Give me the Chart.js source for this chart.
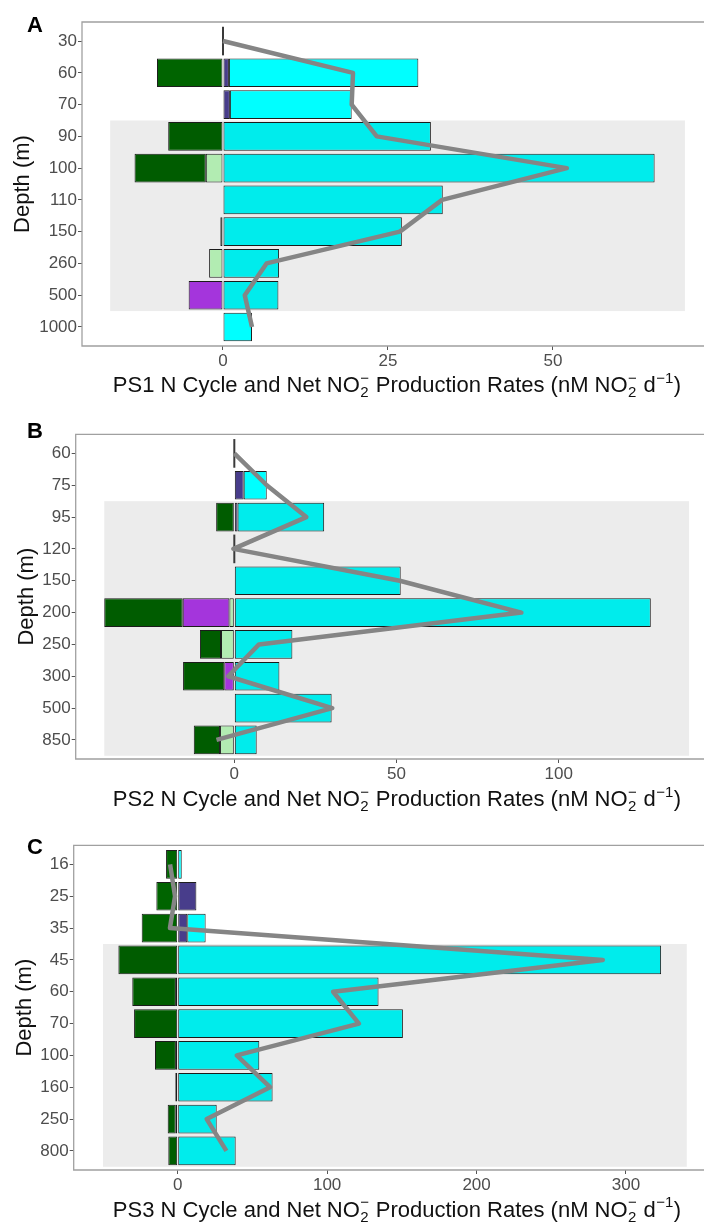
<!DOCTYPE html>
<html>
<head>
<meta charset="utf-8">
<script src="https://cdn.jsdelivr.net/npm/chart.js@4.4.1/dist/chart.umd.min.js"></script>
<style>
  html, body { margin: 0; padding: 0; background: #fff; }
  #page { position: relative; width: 704px; height: 1224px; overflow: hidden; }
  canvas { position: absolute; left: 0; }
</style>
</head>
<body>
<div id="page">
  <canvas id="ps1" width="704" height="405" style="top:0px"></canvas>
  <canvas id="ps2" width="704" height="410" style="top:405px"></canvas>
  <canvas id="ps3" width="704" height="409" style="top:815px"></canvas>
</div>
<script>
// PS1 rates (nM NO2- per day), one value per depth
const depthsPS1 = ['30', '60', '70', '90', '100', '110', '150', '260', '500', '1000'];
const nitriteRedPS1 = [0, 0, 0, 0, -2.6, 0, -0.4, -2.1, 0, 0];
const anammoxPS1 = [0, 0, 0, 0, 0, 0, 0, 0, -5.2, 0];
const nitriteOxPS1 = [0, -10.0, 0, -8.3, -10.8, 0, 0, 0, 0, 0];
const ammoniaOxPS1 = [0, 0.9, 1.05, 0, 0, 0, 0, 0, 0, 0];
const nitrateRedPS1 = [0, 28.7, 18.45, 31.5, 65.4, 33.3, 27.1, 8.5, 8.4, 4.4];
const netPS1 = [0, 19.7, 19.5, 23.3, 52.1, 33.2, 26.8, 6.6, 3.3, 4.4];

// PS2
const depthsPS2 = ['60', '75', '95', '120', '150', '200', '250', '300', '500', '850'];
const nitriteRedPS2 = [0, 0, 0, 0, 0, -1.5, -4.1, 0, 0, -4.4];
const anammoxPS2 = [0, 0, 0, 0, 0, -14.4, 0, -3.1, 0, 0];
const nitriteOxPS2 = [0, 0, -5.6, 0, 0, -24.2, -6.5, -12.7, 0, -8.1];
const ammoniaOxPS2 = [0, 2.9, 1.0, 0, 0, 0, 0, 0, 0, 0];
const nitrateRedPS2 = [0, 7.1, 26.7, 0, 51.3, 128.4, 17.9, 13.9, 30.0, 6.9];
const netPS2 = [0, 10.0, 22.2, -0.3, 51.0, 88.5, 7.6, -1.9, 30.2, -5.5];

// PS3
const depthsPS3 = ['16', '25', '35', '45', '60', '70', '100', '160', '250', '800'];
const nitriteRedPS3 = [0, 0, 0, 0, -1.2, 0, -1.2, -1.6, -1.3, 0];
const anammoxPS3 = [0, 0, 0, 0, 0, 0, 0, 0, 0, 0];
const nitriteOxPS3 = [-7.8, -14.3, -24.1, -39.7, -29.2, -29.2, -14.0, 0, -5.4, -6.3];
const ammoniaOxPS3 = [0, 12.5, 6.4, 0, 0, 0, 0, 0, 0, 0];
const nitrateRedPS3 = [2.7, 0, 12.3, 323.5, 134.4, 150.7, 54.6, 63.5, 26.1, 38.8];
const netPS3 = [-5.1, -1.8, -5.2, 284.5, 104.0, 121.3, 39.5, 61.8, 19.4, 32.6];

const FONT = "'Liberation Sans', Arial, sans-serif";
Chart.defaults.font.family = FONT;

// stacking order: first entry sits next to zero
const processColors = ['#C1FFC1', '#B23AEE', '#006400', '#483D8B', '#00FFFF'];

function drawRateTitle(ctx, prefix, cx, baseline, size) {
  const small = Math.round(size * 0.7);
  const big = size + 'px ' + FONT;
  const sm = small + 'px ' + FONT;
  const parts = [
    { text: prefix + ' N Cycle and Net NO' },
    { sup: '\u2212', sub: '2' },
    { text: ' Production Rates (nM NO' },
    { sup: '\u2212', sub: '2' },
    { text: ' d' },
    { sup: '\u22121' },
    { text: ')' },
  ];
  parts.forEach((p) => {
    if (p.text) {
      ctx.font = big;
      p.w = ctx.measureText(p.text).width;
    } else {
      ctx.font = sm;
      p.w = Math.max(p.sup ? ctx.measureText(p.sup).width : 0, p.sub ? ctx.measureText(p.sub).width : 0) + 1;
    }
  });
  const total = parts.reduce((s, p) => s + p.w, 0);
  let x = cx - total / 2;
  ctx.textAlign = 'left';
  ctx.textBaseline = 'alphabetic';
  parts.forEach((p) => {
    if (p.text) {
      ctx.font = big;
      ctx.fillText(p.text, x, baseline);
    } else {
      ctx.font = sm;
      if (p.sup) ctx.fillText(p.sup, x + 0.5, baseline - size * 0.42);
      if (p.sub) ctx.fillText(p.sub, x + 0.5, baseline + size * 0.24);
    }
    x += p.w;
  });
}

const panelDecor = {
  id: 'panelDecor',
  beforeDatasetDraw(chart, args, opts) {
    if (args.meta.type !== 'line') return;
    const { ctx, scales: { x, y } } = chart;
    const b = opts.band;
    const x0 = x.getPixelForValue(b.xMin), x1 = x.getPixelForValue(b.xMax);
    const y0 = y.getPixelForValue(b.yMin), y1 = y.getPixelForValue(b.yMax);
    ctx.save();
    ctx.fillStyle = 'rgba(0, 0, 0, 0.075)';
    ctx.fillRect(x0, y0, x1 - x0, y1 - y0);

    // depths where every rate is zero still get a thin outline at 0
    const barSets = chart.data.datasets.filter((d) => d.type !== 'line');
    const first = chart.getDatasetMeta(0);
    const zx = x.getPixelForValue(0);
    ctx.strokeStyle = '#3a3a3a';
    ctx.lineWidth = 2;
    first.data.forEach((el, i) => {
      if (barSets.every((d) => d.data[i].x === 0)) {
        ctx.beginPath();
        ctx.moveTo(zx, el.y - el.height / 2);
        ctx.lineTo(zx, el.y + el.height / 2);
        ctx.stroke();
      }
    });
    ctx.restore();
  },
  afterDraw(chart, args, opts) {
    const { ctx, chartArea: a } = chart;
    ctx.save();
    ctx.strokeStyle = '#a0a0a0';
    ctx.lineWidth = 1.3;
    ctx.beginPath();
    ctx.moveTo(a.right + 2, a.top);
    ctx.lineTo(a.left, a.top);
    ctx.lineTo(a.left, a.bottom);
    ctx.lineTo(a.right + 2, a.bottom);
    ctx.stroke();

    ctx.fillStyle = '#000';
    ctx.font = 'bold 22px ' + FONT;
    ctx.textAlign = 'left';
    ctx.textBaseline = 'alphabetic';
    ctx.fillText(opts.letter, 27, opts.letterBase);

    ctx.fillStyle = '#111';
    ctx.save();
    ctx.translate(opts.depthX, (a.top + a.bottom) / 2);
    ctx.rotate(-Math.PI / 2);
    ctx.font = '22px ' + FONT;
    ctx.textAlign = 'center';
    ctx.fillText('Depth (m)', 0, 0);
    ctx.restore();

    drawRateTitle(ctx, opts.station, 397, opts.titleBase, 22);
    ctx.restore();
  },
};

function makePanel(id, p) {
  const series = [p.nitriteRed, p.anammox, p.nitriteOx, p.ammoniaOx, p.nitrateRed];
  const datasets = series.map((vals, k) => ({
    type: 'bar',
    data: vals.map((v, i) => ({ x: v, y: i })),
    backgroundColor: processColors[k],
    borderColor: '#1e1e1e',
    borderWidth: 1,
    borderSkipped: false,
    categoryPercentage: 0.9,
    barPercentage: 1,
  }));
  datasets.push({
    type: 'line',
    data: p.net.map((v, i) => ({ x: v, y: i })),
    borderColor: '#858585',
    borderWidth: 4.5,
    borderJoinStyle: 'round',
    pointRadius: 0,
    tension: 0,
    order: -1,
  });

  const tickStyle = { color: '#4d4d4d', font: { size: 17 } };
  const gridStyle = { drawOnChartArea: false, offset: false, tickLength: 4, tickColor: '#555', tickWidth: 1 };

  return new Chart(document.getElementById(id), {
    type: 'bar',
    data: { datasets },
    options: {
      indexAxis: 'y',
      responsive: false,
      animation: false,
      events: [],
      layout: { padding: { top: p.frame.top, right: 0, left: 0, bottom: 0 } },
      plugins: {
        legend: { display: false },
        tooltip: { enabled: false },
        panelDecor: {
          band: p.band,
          letter: p.letter,
          letterBase: p.frame.letterBase,
          depthX: p.frame.depthX,
          station: p.station,
          titleBase: p.frame.titleBase,
        },
      },
      scales: {
        x: {
          type: 'linear',
          stacked: true,
          offset: false,
          min: p.xMin,
          max: p.xMax,
          ticks: { ...tickStyle, stepSize: p.step, includeBounds: false, padding: 1 },
          grid: gridStyle,
          border: { display: false },
          afterFit: (s) => { s.height = p.frame.height - p.frame.bottom; },
        },
        y: {
          type: 'linear',
          stacked: true,
          reverse: true,
          offset: false,
          min: -0.6,
          max: p.depths.length - 0.4,
          ticks: {
            ...tickStyle,
            stepSize: 1,
            includeBounds: false,
            padding: 1,
            callback: (v) => p.depths[v],
          },
          grid: gridStyle,
          border: { display: false },
          afterFit: (s) => { s.width = p.frame.left; },
        },
      },
    },
    plugins: [panelDecor],
  });
}

makePanel('ps1', {
  letter: 'A', station: 'PS1', depths: depthsPS1,
  nitriteRed: nitriteRedPS1, anammox: anammoxPS1, nitriteOx: nitriteOxPS1,
  ammoniaOx: ammoniaOxPS1, nitrateRed: nitrateRedPS1, net: netPS1,
  xMin: -21.36, xMax: 72.88, step: 25,
  band: { xMin: -17.1, xMax: 70, yMin: 2.5, yMax: 8.5 },
  frame: { top: 22, bottom: 346, left: 82, height: 405, letterBase: 32, depthX: 29, titleBase: 392 },
});

makePanel('ps2', {
  letter: 'B', station: 'PS2', depths: depthsPS2,
  nitriteRed: nitriteRedPS2, anammox: anammoxPS2, nitriteOx: nitriteOxPS2,
  ammoniaOx: ammoniaOxPS2, nitrateRed: nitrateRedPS2, net: netPS2,
  xMin: -48.9, xMax: 144.8, step: 50,
  band: { xMin: -40.1, xMax: 140.2, yMin: 1.5, yMax: 9.5 },
  frame: { top: 29.3, bottom: 354, left: 75.7, height: 410, letterBase: 33, depthX: 32.5, titleBase: 401 },
});

makePanel('ps3', {
  letter: 'C', station: 'PS3', depths: depthsPS3,
  nitriteRed: nitriteRedPS3, anammox: anammoxPS3, nitriteOx: nitriteOxPS3,
  ammoniaOx: ammoniaOxPS3, nitrateRed: nitrateRedPS3, net: netPS3,
  xMin: -69.6, xMax: 352.2, step: 100,
  band: { xMin: -50, xMax: 340.7, yMin: 2.5, yMax: 9.5 },
  frame: { top: 30.3, bottom: 355, left: 73.7, height: 409, letterBase: 39, depthX: 30.8, titleBase: 401.7 },
});
</script>
</body>
</html>
